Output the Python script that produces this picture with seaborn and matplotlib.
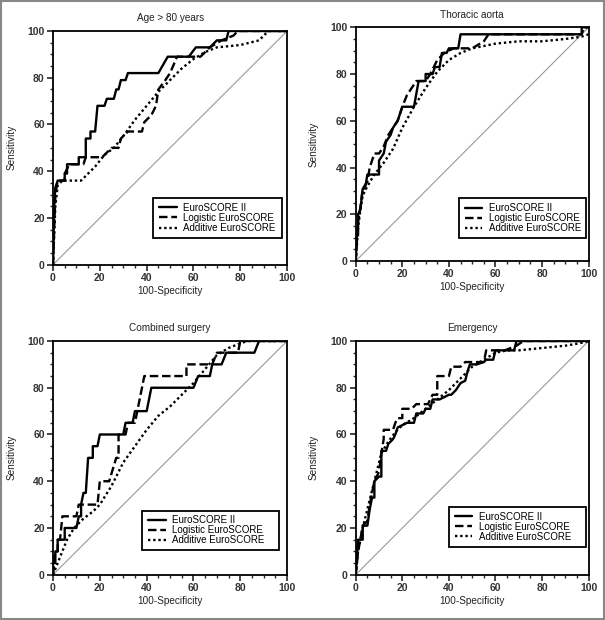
import pandas as pd
import matplotlib.pyplot as plt
import seaborn as sns
from matplotlib.ticker import MultipleLocator
from matplotlib.patches import Rectangle

# ROC curve vertices (x = 100-specificity, y = sensitivity)
age_es2_x = [0, 0.5, 1, 2, 5, 5, 6, 6, 11, 11, 14, 14, 16, 16, 18, 19, 22, 23, 26, 27, 28, 29, 31, 32, 45, 49, 58, 61, 67, 70, 74, 75, 100]
age_es2_y = [0, 25, 33, 36, 36, 39, 39, 43, 43, 46, 46, 54, 54, 57, 57, 68, 68, 71, 71, 75, 75, 79, 79, 82, 82, 89, 89, 93, 93, 96, 96, 100, 100]
age_log_x = [0, 1, 2, 5, 5, 7, 13, 14, 21, 25, 28, 29, 32, 38, 39, 42, 44, 45, 48, 50, 53, 63, 67, 72, 77, 79, 100]
age_log_y = [0, 30, 36, 36, 39, 43, 43, 46, 46, 50, 50, 54, 57, 57, 61, 64, 68, 75, 79, 82, 89, 89, 93, 96, 98, 100, 100]
age_add_x = [0, 1, 2, 4, 12, 15, 18, 22, 26, 30, 35, 40, 45, 50, 55, 60, 65, 70, 80, 88, 92, 100]
age_add_y = [0, 25, 34, 36, 36, 39, 42, 47, 50, 55, 62, 68, 74, 79, 84, 88, 91, 93, 94, 96, 100, 100]

tho_es2_x = [0, 0.5, 1, 1, 2, 3, 4, 5, 10, 10, 12, 13, 15, 16, 18, 19, 20, 25, 27, 30, 30, 33, 34, 36, 37, 39, 40, 44, 45, 97, 97, 100]
tho_es2_y = [0, 11, 11, 20, 22, 31, 31, 37, 37, 43, 46, 51, 54, 57, 60, 63, 66, 66, 77, 77, 80, 80, 83, 83, 89, 89, 91, 91, 97, 97, 100, 100]
tho_log_x = [0, 1, 2, 3, 5, 6, 8, 10, 12, 14, 16, 18, 20, 22, 24, 26, 30, 32, 35, 38, 42, 50, 55, 57, 97, 98, 100]
tho_log_y = [0, 17, 23, 31, 34, 40, 46, 46, 49, 54, 57, 60, 66, 71, 74, 77, 77, 80, 86, 89, 91, 91, 94, 97, 97, 100, 100]
tho_add_x = [0, 1, 2, 3, 5, 8, 12, 16, 20, 25, 30, 35, 40, 45, 50, 60, 70, 80, 90, 97, 100]
tho_add_y = [0, 14, 22, 28, 32, 37, 42, 48, 57, 66, 74, 81, 86, 89, 91, 93, 94, 94, 95, 96, 97]

com_es2_x = [0, 0, 1, 1, 2, 2, 5, 5, 10, 11, 12, 12, 13, 14, 15, 17, 17, 19, 20, 30, 31, 34, 35, 40, 42, 60, 62, 67, 68, 72, 74, 86, 88, 100]
com_es2_y = [0, 5, 5, 10, 10, 15, 15, 20, 20, 25, 25, 30, 35, 35, 50, 50, 55, 55, 60, 60, 65, 65, 70, 70, 80, 80, 85, 85, 90, 90, 95, 95, 100, 100]
com_log_x = [0, 1, 2, 2, 3, 4, 10, 11, 19, 20, 24, 27, 28, 28, 31, 32, 35, 38, 39, 57, 57, 68, 70, 79, 80, 100]
com_log_y = [0, 10, 10, 15, 15, 25, 25, 30, 30, 40, 40, 50, 50, 60, 60, 65, 65, 80, 85, 85, 90, 90, 95, 95, 100, 100]
com_add_x = [0, 2, 4, 6, 9, 13, 17, 20, 25, 30, 35, 40, 45, 50, 55, 60, 65, 70, 75, 80, 83, 100]
com_add_y = [0, 5, 10, 15, 20, 24, 27, 30, 38, 48, 55, 62, 68, 72, 77, 82, 88, 94, 97, 99, 100, 100]

eme_es2_x = [0, 0.5, 1, 3, 3, 5, 6, 7, 8, 8, 10, 11, 11, 13, 14, 16, 17, 18, 20, 22, 25, 26, 29, 30, 32, 33, 36, 40, 41, 43, 45, 47, 48, 49, 52, 55, 56, 59, 60, 68, 69, 100]
eme_es2_y = [0, 8, 15, 15, 21, 21, 28, 33, 33, 40, 42, 42, 53, 53, 56, 58, 60, 63, 64, 65, 65, 69, 69, 71, 71, 75, 75, 77, 77, 79, 82, 83, 87, 90, 90, 91, 92, 92, 96, 96, 100, 100]
eme_log_x = [0, 1, 2, 3, 5, 6, 8, 10, 11, 12, 12, 16, 17, 18, 20, 20, 24, 26, 31, 33, 35, 35, 40, 41, 45, 47, 55, 56, 64, 69, 72, 100]
eme_log_y = [0, 10, 15, 21, 23, 30, 40, 44, 52, 58, 62, 62, 65, 67, 67, 71, 71, 73, 73, 77, 77, 85, 85, 89, 89, 91, 91, 96, 96, 98, 100, 100]
eme_add_x = [0, 1, 3, 5, 7, 9, 11, 14, 17, 20, 25, 30, 35, 40, 45, 50, 55, 60, 65, 70, 80, 90, 96, 100]
eme_add_y = [0, 10, 20, 28, 36, 44, 52, 57, 61, 64, 67, 71, 75, 79, 84, 89, 92, 95, 96, 96, 97, 98, 99, 100]

titles = ["Age > 80 years", "Thoracic aorta", "Combined surgery", "Emergency"]
series_names = ["EuroSCORE II", "Logistic EuroSCORE", "Additive EuroSCORE"]
panels = [
    [(age_es2_x, age_es2_y), (age_log_x, age_log_y), (age_add_x, age_add_y)],
    [(tho_es2_x, tho_es2_y), (tho_log_x, tho_log_y), (tho_add_x, tho_add_y)],
    [(com_es2_x, com_es2_y), (com_log_x, com_log_y), (com_add_x, com_add_y)],
    [(eme_es2_x, eme_es2_y), (eme_log_x, eme_log_y), (eme_add_x, eme_add_y)],
]

sns.set_style("ticks")
plt.rcParams['font.family'] = ['Liberation Sans', 'DejaVu Sans']

fig = plt.figure(figsize=(6.05, 6.2), dpi=100)

# axes positions [left, bottom, width, height]
positions = [
    [0.0876, 0.573, 0.387, 0.377],
    [0.588, 0.579, 0.385, 0.377],
    [0.0876, 0.073, 0.387, 0.377],
    [0.588, 0.073, 0.385, 0.377],
]
# legend boxes in axes fraction (x0, y0, x1, y1)
legend_boxes = [(0.427, 0.115, 0.979, 0.286), (0.442, 0.098, 0.987, 0.269),
                (0.380, 0.107, 0.966, 0.274), (0.399, 0.120, 0.987, 0.291)]
line_styles = ['-', (0, (3.6, 1.6)), (0, (1, 1.2))]

for i in range(4):
    ax = fig.add_axes(positions[i])
    ax.plot([0, 100], [0, 100], color='#999999', lw=0.8)
    for (xs, ys), name, ls in zip(panels[i], series_names, line_styles):
        df = pd.DataFrame({'x': xs, 'y': ys})
        sns.lineplot(data=df, x='x', y='y', sort=False, estimator=None,
                     color='black', linestyle=ls, lw=1.7, label=name, ax=ax)
    ax.set_xlim(0, 100)
    ax.set_ylim(0, 100)
    ax.xaxis.set_major_locator(MultipleLocator(20))
    ax.yaxis.set_major_locator(MultipleLocator(20))
    ax.xaxis.set_minor_locator(MultipleLocator(5))
    ax.yaxis.set_minor_locator(MultipleLocator(5))
    ax.tick_params(which='major', direction='out', length=4, width=1.2, labelsize=7.5, pad=2)
    ax.tick_params(which='minor', direction='out', length=2.5, width=1.0)
    for lab in ax.get_xticklabels() + ax.get_yticklabels():
        lab.set_fontweight('bold')
        lab.set_color('#333333')
    for sp in ax.spines.values():
        sp.set_linewidth(1.3)
        sp.set_color('black')
    ax.set_title(titles[i], fontsize=7.2, pad=7, color='#222222')
    ax.set_xlabel('100-Specificity', fontsize=7.2, labelpad=2, color='#222222')
    ax.set_ylabel('Sensitivity', fontsize=7.2, labelpad=8, color='#222222')

    # legend frame drawn as its own box, entries placed inside it
    x0, y0, x1, y1 = legend_boxes[i]
    ax.add_patch(Rectangle((x0, y0), x1 - x0, y1 - y0, transform=ax.transAxes,
                           facecolor='white', edgecolor='black', lw=1.3, zorder=4))
    leg = ax.legend(loc='center left', bbox_to_anchor=(x0 + 0.026, (y0 + y1) / 2),
                    fontsize=7, frameon=False, handlelength=1.8, handletextpad=0.7,
                    borderpad=0, labelspacing=0.02, borderaxespad=0)
    leg.set_zorder(5)
    for t in leg.get_texts():
        t.set_color('black')

fig.patches.append(Rectangle((0.002, 0.002), 0.996, 0.996, transform=fig.transFigure,
                             fill=False, edgecolor='#888888', lw=1.5))

fig.savefig('out.png', dpi=100)
